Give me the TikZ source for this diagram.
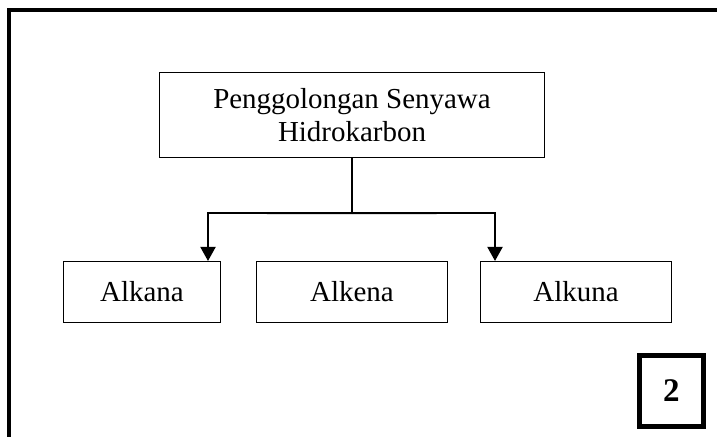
\documentclass[tikz,border=0pt]{standalone}
\usepackage{fontspec}
\setmainfont{Liberation Serif}
\usetikzlibrary{arrows.meta}

\begin{document}
\begin{tikzpicture}[>={Triangle[width=0.375cm,length=0.35cm]},
  kotak/.style={draw, line width=0.9pt, inner sep=0pt, align=center,
    font=\fontsize{20.6}{23.5}\selectfont},
  nomor/.style={draw, line width=0.125cm, inner sep=0pt,
    minimum width=1.6cm, minimum height=1.775cm,
    font=\fontsize{23.5}{26}\selectfont\bfseries}]

  \useasboundingbox (0,0) rectangle (17.925,10.9);

  % -------------------------
  % Bingkai luar
  % -------------------------
  \draw[line width=0.1cm] (0.2175,-0.3) -- (0.2175,10.6425) -- (18.3,10.6425);

  % -------------------------
  % Kotak-kotak
  % -------------------------
  \node[kotak, minimum width=9.62cm, minimum height=2.12cm] (induk) at (8.8,8.025)
    {Penggolongan Senyawa\\Hidrokarbon};

  \node[kotak, minimum width=3.92cm, minimum height=1.52cm] (alkana) at (3.55,3.6) {Alkana};
  \node[kotak, minimum width=4.77cm, minimum height=1.52cm] (alkena) at (8.8,3.6) {Alkena};
  \node[kotak, minimum width=4.77cm, minimum height=1.52cm] (alkuna) at (14.4,3.6) {Alkuna};

  \node[nomor] (nomor) at (16.7875,1.125) {2};

  % -------------------------
  % Garis penghubung
  % -------------------------
  \draw[line width=0.9pt] (induk.south) -- ++(0,-1.375) coordinate (cabang);

  \coordinate (kiri) at (5.2,5.575);
  \coordinate (kanan) at (12.375,5.575);

  \draw[->, line width=1.4pt] (cabang) -- (kiri) -- (kiri |- alkana.north);
  \draw[->, line width=1.4pt] (cabang) -- (kanan) -- (kanan |- alkuna.north);

\end{tikzpicture}
\end{document}
